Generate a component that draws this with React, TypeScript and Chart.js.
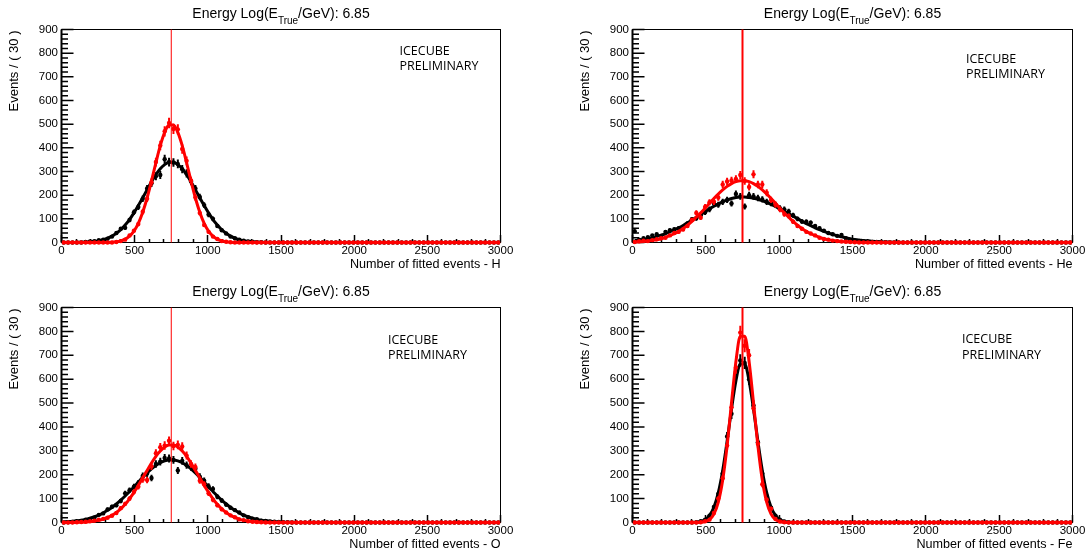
import React, { useEffect, useRef } from "react";
import { Chart, registerables } from "chart.js";

Chart.register(...registerables);

const BIN_WIDTH = 30;
const N_BINS = 100;
const X_MIN = 0;
const X_MAX = 3000;
const X_STEP = 500;
const X_MINOR = 100;
const Y_MIN = 0;
const Y_MAX = 900;
const Y_STEP = 100;
const Y_MINOR = 20;
const TRUE_VALUE = 750;
const TITLE_MAIN = "Energy Log(E";
const TITLE_SUB = "True";
const TITLE_END = "/GeV): 6.85";
const Y_TITLE = "Events / ( 30 )";
const ELEMENTS = ["H", "He", "O", "Fe"];
const X_TITLES = ELEMENTS.map((e) => `Number of fitted events - ${e}`);
const WATERMARK = ["ICECUBE", "PRELIMINARY"];

const BIN_CENTERS = Array.from({ length: N_BINS }, (_, i) => X_MIN + BIN_WIDTH * (i + 0.5));

// ---------- H ----------
const H_BLACK_PTS = [
  0, 0, 0, 0, 0, 2, 4, 6, 10, 12,
  16, 25, 40, 58, 62, 95, 128, 150, 185, 228,
  250, 280, 285, 352, 340, 338, 332, 310, 292, 258,
  228, 192, 158, 118, 100, 70, 52, 38, 25, 18,
  12, 8, 4, 3, 1, 1, 0, 0, 0, 0,
  0, 0, 0, 0, 0, 0, 0, 0, 0, 0,
  0, 0, 0, 0, 0, 0, 0, 0, 0, 0,
  0, 0, 0, 0, 0, 0, 0, 0, 0, 0,
  0, 0, 0, 0, 0, 0, 0, 0, 0, 0,
  0, 0, 0, 0, 0, 0, 0, 0, 0, 0,
];
const H_BLACK_FIT = [
  0, 0, 0, 0, 1, 2, 3, 5, 8, 12,
  18, 27, 39, 54, 74, 97, 125, 156, 189, 223,
  257, 287, 312, 329, 339, 339, 329, 312, 287, 257,
  223, 189, 156, 125, 97, 74, 54, 39, 27, 18,
  12, 8, 5, 3, 2, 1, 0, 0, 0, 0,
  0, 0, 0, 0, 0, 0, 0, 0, 0, 0,
  0, 0, 0, 0, 0, 0, 0, 0, 0, 0,
  0, 0, 0, 0, 0, 0, 0, 0, 0, 0,
  0, 0, 0, 0, 0, 0, 0, 0, 0, 0,
  0, 0, 0, 0, 0, 0, 0, 0, 0, 0,
];
const H_RED_PTS = [
  0, 0, 0, 0, 0, 0, 0, 0, 0, 0,
  0, 0, 2, 6, 12, 30, 50, 78, 130, 185,
  255, 340, 410, 470, 505, 480, 478, 395, 345, 262,
  190, 125, 74, 45, 25, 15, 6, 3, 1, 0,
  0, 0, 0, 0, 0, 0, 0, 0, 0, 0,
  0, 0, 0, 0, 0, 0, 0, 0, 0, 0,
  0, 0, 0, 0, 0, 0, 0, 0, 0, 0,
  0, 0, 0, 0, 0, 0, 0, 0, 0, 0,
  0, 0, 0, 0, 0, 0, 0, 0, 0, 0,
  0, 0, 0, 0, 0, 0, 0, 0, 0, 0,
];
const H_RED_FIT = [
  0, 0, 0, 0, 0, 0, 0, 0, 0, 0,
  0, 1, 3, 7, 14, 27, 48, 81, 128, 188,
  260, 337, 409, 465, 496, 496, 465, 409, 337, 260,
  188, 128, 81, 48, 27, 14, 7, 3, 1, 0,
  0, 0, 0, 0, 0, 0, 0, 0, 0, 0,
  0, 0, 0, 0, 0, 0, 0, 0, 0, 0,
  0, 0, 0, 0, 0, 0, 0, 0, 0, 0,
  0, 0, 0, 0, 0, 0, 0, 0, 0, 0,
  0, 0, 0, 0, 0, 0, 0, 0, 0, 0,
  0, 0, 0, 0, 0, 0, 0, 0, 0, 0,
];

// ---------- He ----------
const HE_BLACK_PTS = [
  48, 12, 18, 22, 30, 35, 28, 45, 52, 56,
  60, 65, 80, 98, 102, 115, 128, 140, 165, 160,
  172, 180, 165, 205, 195, 152, 200, 195, 188, 182,
  172, 166, 160, 145, 140, 131, 115, 100, 89, 88,
  84, 70, 60, 50, 40, 35, 28, 32, 18, 10,
  8, 5, 4, 3, 2, 2, 1, 1, 0, 0,
  0, 0, 0, 0, 0, 0, 0, 0, 0, 0,
  0, 0, 0, 0, 0, 0, 0, 0, 0, 0,
  0, 0, 0, 0, 0, 0, 0, 0, 0, 0,
  0, 0, 0, 0, 0, 0, 0, 0, 0, 0,
];
const HE_BLACK_FIT = [
  8, 10, 13, 16, 20, 25, 31, 37, 45, 53,
  62, 72, 83, 95, 106, 118, 130, 142, 153, 163,
  172, 180, 186, 190, 192, 192, 190, 187, 183, 177,
  169, 161, 152, 142, 132, 122, 111, 101, 90, 80,
  71, 62, 54, 47, 40, 34, 28, 24, 20, 16,
  13, 11, 8, 7, 5, 4, 3, 2, 2, 1,
  1, 0, 0, 0, 0, 0, 0, 0, 0, 0,
  0, 0, 0, 0, 0, 0, 0, 0, 0, 0,
  0, 0, 0, 0, 0, 0, 0, 0, 0, 0,
  0, 0, 0, 0, 0, 0, 0, 0, 0, 0,
];
const HE_RED_PTS = [
  2, 5, 8, 6, 10, 14, 18, 20, 30, 40,
  45, 55, 70, 95, 125, 105, 150, 170, 172, 190,
  245, 258, 262, 268, 285, 260, 235, 288, 245, 245,
  210, 180, 160, 140, 120, 112, 88, 70, 58, 45,
  38, 30, 20, 15, 12, 8, 6, 4, 3, 2,
  1, 0, 0, 0, 0, 0, 0, 0, 0, 0,
  0, 0, 0, 0, 0, 0, 0, 0, 0, 0,
  0, 0, 0, 0, 0, 0, 0, 0, 0, 0,
  0, 0, 0, 0, 0, 0, 0, 0, 0, 0,
  0, 0, 0, 0, 0, 0, 0, 0, 0, 0,
];
const HE_RED_FIT = [
  2, 3, 4, 6, 9, 12, 16, 22, 29, 37,
  47, 59, 73, 89, 107, 125, 145, 166, 186, 205,
  222, 237, 249, 257, 261, 261, 257, 249, 237, 222,
  205, 186, 166, 145, 125, 107, 89, 73, 59, 47,
  37, 29, 22, 16, 12, 9, 6, 4, 3, 2,
  1, 1, 0, 0, 0, 0, 0, 0, 0, 0,
  0, 0, 0, 0, 0, 0, 0, 0, 0, 0,
  0, 0, 0, 0, 0, 0, 0, 0, 0, 0,
  0, 0, 0, 0, 0, 0, 0, 0, 0, 0,
  0, 0, 0, 0, 0, 0, 0, 0, 0, 0,
];

// ---------- O ----------
const O_BLACK_PTS = [
  0, 1, 2, 4, 6, 12, 15, 20, 32, 38,
  55, 66, 72, 90, 122, 135, 150, 165, 195, 205,
  186, 245, 255, 270, 268, 262, 218, 258, 240, 232,
  225, 192, 175, 152, 140, 108, 92, 75, 62, 52,
  42, 30, 22, 16, 14, 8, 6, 4, 3, 2,
  1, 1, 0, 0, 0, 0, 0, 0, 0, 0,
  0, 0, 0, 0, 0, 0, 0, 0, 0, 0,
  0, 0, 0, 0, 0, 0, 0, 0, 0, 0,
  0, 0, 0, 0, 0, 0, 0, 0, 0, 0,
  0, 0, 0, 0, 0, 0, 0, 0, 0, 0,
];
const O_BLACK_FIT = [
  2, 4, 5, 7, 10, 13, 18, 24, 31, 40,
  51, 63, 78, 94, 111, 130, 149, 169, 189, 208,
  225, 239, 250, 258, 262, 262, 258, 250, 239, 225,
  208, 189, 169, 149, 130, 111, 94, 78, 63, 51,
  40, 31, 24, 18, 13, 10, 7, 5, 4, 2,
  2, 1, 1, 0, 0, 0, 0, 0, 0, 0,
  0, 0, 0, 0, 0, 0, 0, 0, 0, 0,
  0, 0, 0, 0, 0, 0, 0, 0, 0, 0,
  0, 0, 0, 0, 0, 0, 0, 0, 0, 0,
  0, 0, 0, 0, 0, 0, 0, 0, 0, 0,
];
const O_RED_PTS = [
  0, 0, 0, 1, 2, 3, 5, 8, 12, 15,
  20, 28, 40, 60, 78, 100, 128, 150, 180, 178,
  235, 290, 315, 322, 342, 320, 325, 318, 280, 245,
  232, 175, 160, 122, 95, 72, 55, 42, 30, 22,
  13, 10, 5, 3, 2, 1, 0, 0, 0, 0,
  0, 0, 0, 0, 0, 0, 0, 0, 0, 0,
  0, 0, 0, 0, 0, 0, 0, 0, 0, 0,
  0, 0, 0, 0, 0, 0, 0, 0, 0, 0,
  0, 0, 0, 0, 0, 0, 0, 0, 0, 0,
  0, 0, 0, 0, 0, 0, 0, 0, 0, 0,
];
const O_RED_FIT = [
  0, 0, 0, 1, 1, 2, 4, 6, 9, 14,
  21, 30, 42, 57, 76, 99, 126, 155, 187, 218,
  249, 277, 299, 316, 324, 324, 316, 299, 277, 249,
  218, 187, 155, 126, 99, 76, 57, 42, 30, 21,
  14, 9, 6, 4, 2, 1, 1, 0, 0, 0,
  0, 0, 0, 0, 0, 0, 0, 0, 0, 0,
  0, 0, 0, 0, 0, 0, 0, 0, 0, 0,
  0, 0, 0, 0, 0, 0, 0, 0, 0, 0,
  0, 0, 0, 0, 0, 0, 0, 0, 0, 0,
  0, 0, 0, 0, 0, 0, 0, 0, 0, 0,
];

// ---------- Fe ----------
const FE_BLACK_PTS = [
  0, 0, 0, 0, 0, 0, 0, 0, 0, 0,
  0, 0, 0, 0, 1, 5, 12, 28, 65, 120,
  205, 360, 455, 630, 678, 668, 600, 490, 336, 205,
  110, 62, 28, 12, 4, 1, 0, 0, 0, 0,
  0, 0, 0, 0, 0, 0, 0, 0, 0, 0,
  0, 0, 0, 0, 0, 0, 0, 0, 0, 0,
  0, 0, 0, 0, 0, 0, 0, 0, 0, 0,
  0, 0, 0, 0, 0, 0, 0, 0, 0, 0,
  0, 0, 0, 0, 0, 0, 0, 0, 0, 0,
  0, 0, 0, 0, 0, 0, 0, 0, 0, 0,
];
const FE_BLACK_FIT = [
  0, 0, 0, 0, 0, 0, 0, 0, 0, 0,
  0, 0, 0, 0, 1, 4, 12, 30, 64, 125,
  218, 340, 475, 593, 663, 663, 593, 475, 340, 218,
  125, 64, 30, 12, 4, 1, 0, 0, 0, 0,
  0, 0, 0, 0, 0, 0, 0, 0, 0, 0,
  0, 0, 0, 0, 0, 0, 0, 0, 0, 0,
  0, 0, 0, 0, 0, 0, 0, 0, 0, 0,
  0, 0, 0, 0, 0, 0, 0, 0, 0, 0,
  0, 0, 0, 0, 0, 0, 0, 0, 0, 0,
  0, 0, 0, 0, 0, 0, 0, 0, 0, 0,
];
const FE_RED_PTS = [
  0, 0, 0, 0, 0, 0, 0, 0, 0, 0,
  0, 0, 0, 0, 0, 1, 5, 12, 40, 100,
  185, 322, 482, 648, 795, 740, 700, 478, 330, 160,
  95, 58, 15, 4, 1, 0, 0, 0, 0, 0,
  0, 0, 0, 0, 0, 0, 0, 0, 0, 0,
  0, 0, 0, 0, 0, 0, 0, 0, 0, 0,
  0, 0, 0, 0, 0, 0, 0, 0, 0, 0,
  0, 0, 0, 0, 0, 0, 0, 0, 0, 0,
  0, 0, 0, 0, 0, 0, 0, 0, 0, 0,
  0, 0, 0, 0, 0, 0, 0, 0, 0, 0,
];
const FE_RED_FIT = [
  0, 0, 0, 0, 0, 0, 0, 0, 0, 0,
  0, 0, 0, 0, 0, 1, 4, 12, 35, 85,
  178, 321, 501, 673, 780, 780, 673, 501, 321, 178,
  85, 35, 12, 4, 1, 0, 0, 0, 0, 0,
  0, 0, 0, 0, 0, 0, 0, 0, 0, 0,
  0, 0, 0, 0, 0, 0, 0, 0, 0, 0,
  0, 0, 0, 0, 0, 0, 0, 0, 0, 0,
  0, 0, 0, 0, 0, 0, 0, 0, 0, 0,
  0, 0, 0, 0, 0, 0, 0, 0, 0, 0,
  0, 0, 0, 0, 0, 0, 0, 0, 0, 0,
];

const PANEL_DATA = [
  { blackPts: H_BLACK_PTS, blackFit: H_BLACK_FIT, redPts: H_RED_PTS, redFit: H_RED_FIT },
  { blackPts: HE_BLACK_PTS, blackFit: HE_BLACK_FIT, redPts: HE_RED_PTS, redFit: HE_RED_FIT },
  { blackPts: O_BLACK_PTS, blackFit: O_BLACK_FIT, redPts: O_RED_PTS, redFit: O_RED_FIT },
  { blackPts: FE_BLACK_PTS, blackFit: FE_BLACK_FIT, redPts: FE_RED_PTS, redFit: FE_RED_FIT },
];

// layout (pixels inside each panel canvas)
const LAYOUT = [
  { left: 0, top: 0, w: 545, h: 277, l: 61.5, r: 500.5, t: 29.5, b: 242.5, yTitleX: 14, titleY: 17.5, markX: 399.5, markY: 51, lineW: 1 },
  { left: 545, top: 0, w: 545, h: 277, l: 87.5, r: 527.5, t: 29.5, b: 242.5, yTitleX: 40.5, titleY: 17.5, markX: 421, markY: 59.4, lineW: 2 },
  { left: 0, top: 277, w: 545, h: 278, l: 61.5, r: 500.5, t: 30.5, b: 245.5, yTitleX: 14, titleY: 18.5, markX: 388, markY: 63.4, lineW: 1 },
  { left: 545, top: 277, w: 545, h: 278, l: 87.5, r: 527.5, t: 30.5, b: 245.5, yTitleX: 40.5, titleY: 18.5, markX: 417, markY: 62.5, lineW: 2 },
];

const FONT = '"Liberation Sans", Arial, Helvetica, sans-serif';
const MARK_FONT = '"Open Sans", "DejaVu Sans", sans-serif';
const RED = "#ff0000";
const BLACK = "#000000";

const snap = (v: number) => Math.round(v - 0.5) + 0.5;

const rootStyle: any = {
  id: "rootStyle",
  beforeDatasetsDraw(chart: any) {
    const { ctx, chartArea: a, scales } = chart;
    const x = scales.x;
    const y = scales.y;
    ctx.save();
    ctx.strokeStyle = BLACK;
    ctx.lineWidth = 1;
    ctx.strokeRect(a.left, a.top, a.right - a.left, a.bottom - a.top);
    ctx.lineWidth = 2;
    ctx.beginPath();
    ctx.moveTo(a.left, a.top);
    ctx.lineTo(a.left, a.bottom);
    ctx.stroke();
    // y ticks (inside)
    ctx.lineWidth = 1.5;
    ctx.beginPath();
    for (let v = Y_MIN; v <= Y_MAX; v += Y_MINOR) {
      const py = y.getPixelForValue(v);
      const len = v % Y_STEP === 0 ? 12 : 6.5;
      ctx.moveTo(a.left, py);
      ctx.lineTo(a.left + len, py);
    }
    // x ticks (inside, upward)
    for (let v = X_MIN; v <= X_MAX; v += X_MINOR) {
      const px = snap(x.getPixelForValue(v));
      const len = v % X_STEP === 0 ? 7.5 : 3.5;
      ctx.moveTo(px, a.bottom);
      ctx.lineTo(px, a.bottom - len);
    }
    ctx.stroke();
    ctx.restore();
  },
  beforeDatasetDraw(chart: any, args: any) {
    const ds = chart.data.datasets[args.index];
    if (!ds.errorBars) return;
    const { ctx, chartArea: a, scales } = chart;
    const x = scales.x;
    const y = scales.y;
    ctx.save();
    ctx.beginPath();
    ctx.rect(a.left, a.top, a.right - a.left, a.bottom - a.top + 3);
    ctx.clip();
    ctx.strokeStyle = ds.borderColor;
    ctx.lineWidth = 2;
    ctx.beginPath();
    for (const p of ds.data) {
      const err = p.y > 0 ? Math.sqrt(p.y) : 1.15;
      const px = x.getPixelForValue(p.x);
      const py = y.getPixelForValue(p.y);
      ctx.moveTo(x.getPixelForValue(p.x - BIN_WIDTH / 2) + 0.8, py);
      ctx.lineTo(x.getPixelForValue(p.x + BIN_WIDTH / 2) - 0.8, py);
      ctx.moveTo(px, y.getPixelForValue(Math.max(0, p.y - err)));
      ctx.lineTo(px, y.getPixelForValue(p.y + err));
    }
    ctx.stroke();
    ctx.restore();
  },
  afterDatasetsDraw(chart: any, _args: any, opts: any) {
    const { ctx, chartArea: a, scales } = chart;
    const px = scales.x.getPixelForValue(TRUE_VALUE);
    ctx.save();
    ctx.strokeStyle = RED;
    ctx.lineWidth = opts.lineW;
    ctx.beginPath();
    ctx.moveTo(px, a.top);
    ctx.lineTo(px, a.bottom);
    ctx.stroke();
    ctx.restore();
  },
  afterDraw(chart: any, _args: any, opts: any) {
    const { ctx, chartArea: a } = chart;
    ctx.save();
    ctx.fillStyle = BLACK;
    // title with subscript
    ctx.textBaseline = "alphabetic";
    ctx.textAlign = "left";
    ctx.font = `14px ${FONT}`;
    const w1 = ctx.measureText(TITLE_MAIN).width;
    const w3 = ctx.measureText(TITLE_END).width;
    ctx.font = `10px ${FONT}`;
    const w2 = ctx.measureText(TITLE_SUB).width;
    const cx = (a.left + a.right) / 2;
    const x0 = cx - (w1 + w2 + w3) / 2;
    ctx.font = `14px ${FONT}`;
    ctx.fillText(TITLE_MAIN, x0, opts.titleY);
    ctx.fillText(TITLE_END, x0 + w1 + w2, opts.titleY);
    ctx.font = `10px ${FONT}`;
    ctx.fillText(TITLE_SUB, x0 + w1, opts.titleY + 6.5);
    // y title
    ctx.save();
    ctx.font = `13px ${FONT}`;
    ctx.translate(opts.yTitleX, a.top + 1);
    ctx.rotate(-Math.PI / 2);
    ctx.textAlign = "right";
    ctx.textBaseline = "middle";
    ctx.fillText(Y_TITLE, 0, 0);
    ctx.restore();
    // x title
    ctx.font = `12.6px ${FONT}`;
    ctx.textAlign = "right";
    ctx.textBaseline = "middle";
    ctx.fillText(opts.xTitle, a.right, a.bottom + 22);
    // watermark
    ctx.font = `12.5px ${MARK_FONT}`;
    ctx.textAlign = "left";
    ctx.fillText(WATERMARK[0], opts.markX, opts.markY);
    ctx.fillText(WATERMARK[1], opts.markX, opts.markY + 15.5);
    ctx.restore();
  },
};

function Panel({ idx }: { idx: number }) {
  const ref = useRef<HTMLCanvasElement | null>(null);
  const L = LAYOUT[idx];
  useEffect(() => {
    const D = PANEL_DATA[idx];
    const toXY = (arr: number[]) => arr.map((v, i) => ({ x: BIN_CENTERS[i], y: v }));
    const clip = { left: 0, right: 0, top: 0, bottom: 4 };
    const chart = new Chart(ref.current as HTMLCanvasElement, {
      type: "line",
      data: {
        datasets: [
          {
            label: "black data",
            data: toXY(D.blackPts),
            showLine: false,
            pointRadius: 2.2,
            pointBorderWidth: 0,
            pointBackgroundColor: BLACK,
            borderColor: BLACK,
            errorBars: true,
            order: 4,
            clip,
          } as any,
          {
            label: "black fit",
            data: toXY(D.blackFit),
            borderColor: BLACK,
            borderWidth: 3,
            pointRadius: 0,
            cubicInterpolationMode: "monotone",
            order: 3,
            clip,
          } as any,
          {
            label: "red data",
            data: toXY(D.redPts),
            showLine: false,
            pointRadius: 2.2,
            pointBorderWidth: 0,
            pointBackgroundColor: RED,
            borderColor: RED,
            errorBars: true,
            order: 2,
            clip,
          } as any,
          {
            label: "red fit",
            data: toXY(D.redFit),
            borderColor: RED,
            borderWidth: 3,
            pointRadius: 0,
            cubicInterpolationMode: "monotone",
            order: 1,
            clip,
          } as any,
        ],
      },
      options: {
        responsive: false,
        animation: false,
        devicePixelRatio: 1,
        events: [],
        layout: { padding: { left: 0, top: L.t, right: L.w - L.r, bottom: 0 } },
        plugins: {
          legend: { display: false },
          tooltip: { enabled: false },
          title: { display: false },
          rootStyle: {
            lineW: L.lineW,
            titleY: L.titleY,
            yTitleX: L.yTitleX,
            markX: L.markX,
            markY: L.markY,
            xTitle: X_TITLES[idx],
          },
        } as any,
        scales: {
          x: {
            type: "linear",
            min: X_MIN,
            max: X_MAX,
            grid: { display: false, drawTicks: false },
            border: { display: false },
            ticks: {
              stepSize: X_STEP,
              autoSkip: false,
              maxRotation: 0,
              padding: 1,
              color: BLACK,
              font: { family: FONT, size: 11.5 },
              callback: (v: any) => String(v),
            },
            afterFit: (s: any) => {
              s.height = L.h - L.b;
            },
          },
          y: {
            type: "linear",
            min: Y_MIN,
            max: Y_MAX,
            grid: { display: false, drawTicks: false },
            border: { display: false },
            ticks: {
              stepSize: Y_STEP,
              autoSkip: false,
              padding: 3.5,
              color: BLACK,
              font: { family: FONT, size: 11.5 },
              callback: (v: any) => String(v),
            },
            afterFit: (s: any) => {
              s.width = L.l;
            },
          },
        },
      } as any,
      plugins: [rootStyle],
    });
    return () => chart.destroy();
  }, [idx]);
  return (
    <canvas
      ref={ref}
      width={L.w}
      height={L.h}
      style={{ position: "absolute", left: L.left, top: L.top, width: L.w, height: L.h }}
    />
  );
}

export default function App() {
  return (
    <div style={{ position: "fixed", left: 0, top: 0, width: 1090, height: 555, background: "#fff", overflow: "hidden" }}>
      {LAYOUT.map((_, i) => (
        <Panel key={i} idx={i} />
      ))}
    </div>
  );
}
